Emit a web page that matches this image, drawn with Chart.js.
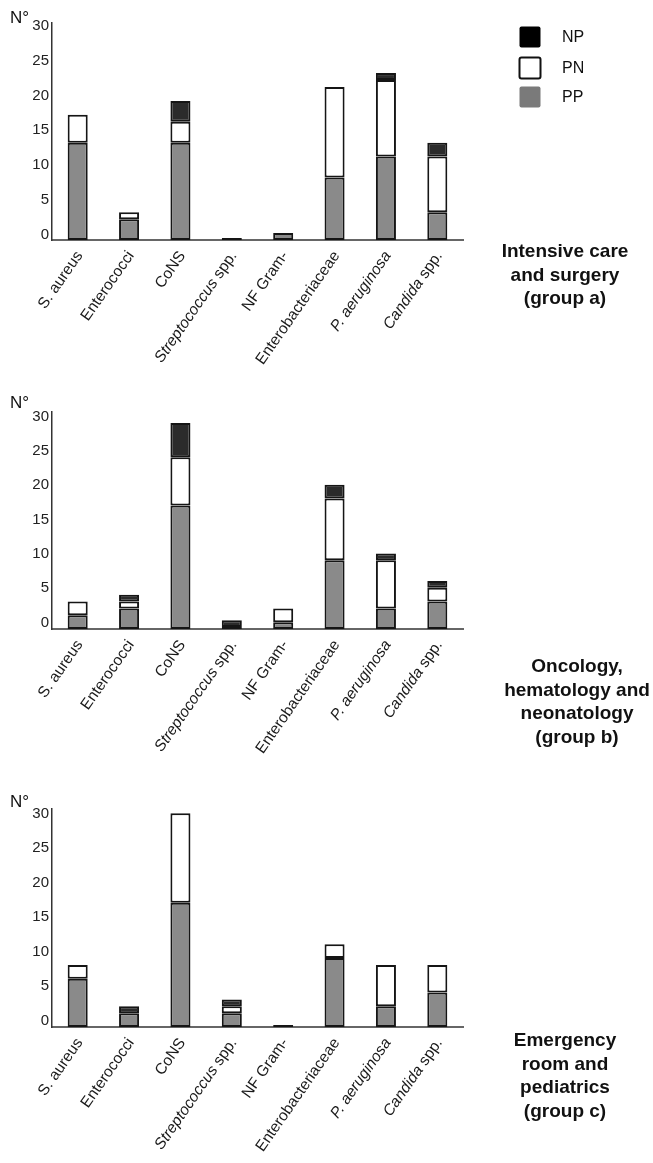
<!DOCTYPE html>
<html>
<head>
<meta charset="utf-8">
<script src="https://cdn.jsdelivr.net/npm/chart.js@4/dist/chart.umd.min.js"></script>
<style>
  html, body { margin: 0; padding: 0; background: #fff; }
  #wrap { position: relative; width: 653px; height: 1163px; overflow: hidden; background: #fff; }
  #wrap canvas { position: absolute; left: 0; }
</style>
</head>
<body>
<div id="wrap">
  <canvas id="groupA" width="653" height="387" style="top:0px"></canvas>
  <canvas id="groupB" width="653" height="393" style="top:387px"></canvas>
  <canvas id="groupC" width="653" height="383" style="top:780px"></canvas>
</div>
<script>
// Pathogen categories along the x axis
const categories = ['S. aureus', 'Enterococci', 'CoNS', 'Streptococcus spp.', 'NF Gram-', 'Enterobacteriaceae', 'P. aeruginosa', 'Candida spp.'];
// Leading part of each category name that is set in italics
const italicPart = ['', '', '', 'Streptococcus', '', '', 'P. aeruginosa', 'Candida'];
const yTicks = [0, 5, 10, 15, 20, 25, 30];

// Counts per category (PP bottom, PN middle, NP top of each stack)
const groupA_PP = [14, 3, 14, 0, 1, 9, 12, 4];
const groupA_PN = [4, 1, 3, 0, 0, 13, 11, 8];
const groupA_NP = [0, 0, 3, 0, 0, 0, 1, 2];

const groupB_PP = [2, 3, 18, 0, 1, 10, 3, 4];
const groupB_PN = [2, 1, 7, 0, 2, 9, 7, 2];
const groupB_NP = [0, 1, 5, 1, 0, 2, 1, 1];

const groupC_PP = [7, 2, 18, 2, 0, 10, 3, 5];
const groupC_PN = [2, 0, 13, 1, 0, 2, 6, 4];
const groupC_NP = [0, 1, 0, 1, 0, 0, 0, 0];

const titleA = ['Intensive care', 'and surgery', '(group a)'];
const titleB = ['Oncology,', 'hematology and', 'neonatology', '(group b)'];
const titleC = ['Emergency', 'room and', 'pediatrics', '(group c)'];

const FONT = "'Liberation Sans', Arial, Helvetica, sans-serif";
const LABEL_ANGLE = 55 * Math.PI / 180;

function drawCategoryLabel(ctx, i, px, py) {
  const full = categories[i];
  const it = italicPart[i];
  const rest = full.slice(it.length);
  const fItalic = `italic 15.5px ${FONT}`;
  const fNormal = `15.5px ${FONT}`;
  ctx.font = fItalic;
  const wI = it ? ctx.measureText(it).width : 0;
  ctx.font = fNormal;
  const wN = rest ? ctx.measureText(rest).width : 0;
  ctx.save();
  ctx.translate(px, py);
  ctx.rotate(-LABEL_ANGLE);
  ctx.textBaseline = 'middle';
  ctx.textAlign = 'left';
  ctx.fillStyle = '#1a1a1a';
  let x0 = -(wI + wN);
  if (it) { ctx.font = fItalic; ctx.fillText(it, x0, 0); x0 += wI; }
  if (rest) { ctx.font = fNormal; ctx.fillText(rest, x0, 0); }
  ctx.restore();
}

function makeDecor(cfg) {
  return {
    id: 'panelDecor',
    afterDraw(chart) {
      const ctx = chart.ctx;
      const area = chart.chartArea;
      const xs = chart.scales.x;
      categories.forEach((c, i) => drawCategoryLabel(ctx, i, xs.getPixelForValue(i) + 2, area.bottom + 13));

      ctx.save();
      ctx.fillStyle = '#111';
      ctx.textAlign = 'left';
      ctx.textBaseline = 'alphabetic';
      ctx.font = `17px ${FONT}`;
      ctx.fillText('N°', 10, cfg.nBase);

      ctx.font = `bold 19px ${FONT}`;
      ctx.textAlign = 'center';
      cfg.title.forEach((t, k) => ctx.fillText(t, cfg.titleX, cfg.titleY + k * cfg.titleStep));

      if (cfg.legend) {
        const ds = chart.data.datasets.slice().reverse();
        const tops = [26, 57, 86];
        ds.forEach((d, k) => {
          const top = tops[k];
          ctx.beginPath();
          if (ctx.roundRect) ctx.roundRect(519.5, top + 0.5, 21, 21, 2); else ctx.rect(519.5, top + 0.5, 21, 21);
          ctx.fillStyle = d.label === 'NP' ? '#000' : (d.label === 'PP' ? '#7a7a7a' : d.backgroundColor);
          ctx.fill();
          if (d.label === 'PN') { ctx.lineWidth = 2; ctx.strokeStyle = '#111'; ctx.stroke(); }
          ctx.fillStyle = '#111';
          ctx.font = `16px ${FONT}`;
          ctx.textAlign = 'left';
          ctx.textBaseline = 'middle';
          ctx.fillText(d.label, 562, top + 11.5);
        });
      }
      ctx.restore();
    }
  };
}

function makeDatasets(pp, pn, np) {
  const common = {
    borderColor: '#151515',
    borderWidth: 2,
    borderSkipped: false,
    barPercentage: 0.39,
    categoryPercentage: 1
  };
  return [
    Object.assign({ label: 'PP', data: pp, backgroundColor: '#8a8a8a', minBarLength: 2 }, common),
    Object.assign({ label: 'PN', data: pn, backgroundColor: '#ffffff' }, common),
    Object.assign({ label: 'NP', data: np, backgroundColor: '#2b2b2b' }, common)
  ];
}

function buildPanel(id, datasets, cfg) {
  return new Chart(document.getElementById(id), {
    type: 'bar',
    data: { labels: categories, datasets: datasets },
    options: {
      responsive: false,
      animation: false,
      devicePixelRatio: 1,
      layout: { padding: { top: cfg.top, right: 190, left: 0, bottom: 0 } },
      plugins: { legend: { display: false }, tooltip: { enabled: false } },
      scales: {
        x: {
          stacked: true,
          grid: { display: false, drawTicks: false },
          border: { display: true, color: '#666', width: 2 },
          ticks: { display: false },
          afterFit(s) { s.height = cfg.xHeight; }
        },
        y: {
          stacked: true,
          min: 0,
          max: cfg.yMax,
          grid: { display: false, drawTicks: false },
          border: { display: true, color: '#333', width: 1.5 },
          ticks: { padding: 3, labelOffset: cfg.labelOffset, color: '#222', font: { family: FONT, size: 15 } },
          afterBuildTicks(s) { s.ticks = yTicks.map(v => ({ value: v })); },
          afterFit(s) { s.width = 52; }
        }
      }
    },
    plugins: [makeDecor(cfg)]
  });
}

buildPanel('groupA', makeDatasets(groupA_PP, groupA_PN, groupA_NP),
  { top: 23, xHeight: 147, yMax: 31.2, labelOffset: -5.5, nBase: 23, title: titleA, titleX: 565, titleY: 257, titleStep: 23.5, legend: true });
buildPanel('groupB', makeDatasets(groupB_PP, groupB_PN, groupB_NP),
  { top: 25, xHeight: 151, yMax: 31.6, labelOffset: -6.5, nBase: 21, title: titleB, titleX: 577, titleY: 285, titleStep: 23.5, legend: false });
buildPanel('groupC', makeDatasets(groupC_PP, groupC_PN, groupC_NP),
  { top: 29, xHeight: 136, yMax: 31.6, labelOffset: -6.5, nBase: 27, title: titleC, titleX: 565, titleY: 266, titleStep: 23.5, legend: false });
</script>
</body>
</html>
